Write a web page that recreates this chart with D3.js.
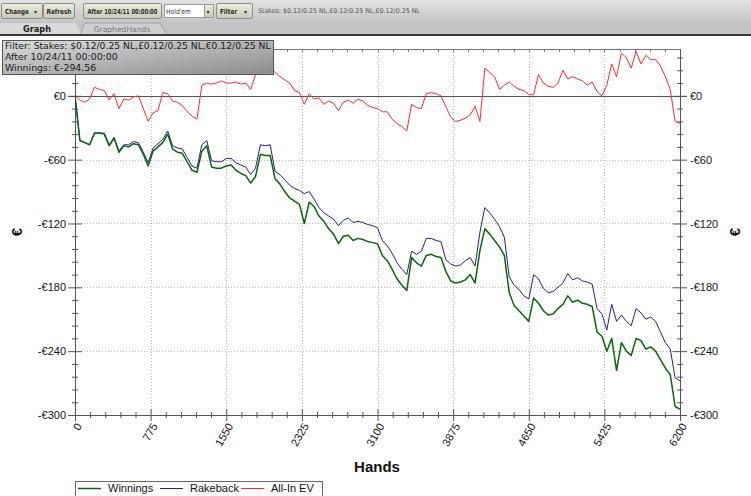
<!DOCTYPE html>
<meta charset="utf-8">
<style>
body { margin: 0; background: #fff; }
svg { display: block; font-family: "Liberation Sans", Arial, sans-serif; }
.axis text { font-size: 11px; fill: #111; }
.tb text { font-family: "DejaVu Sans", Verdana, sans-serif; }
</style>
<body>
<svg id="chart" width="751" height="496"></svg>
<script src="https://d3js.org/d3.v7.min.js"></script>
<script>
// hands played (x samples)
var hands = [0,50,100,150,200,250,300,350,400,450,500,550,600,650,700,750,800,850,900,950,
  1000,1050,1100,1150,1200,1250,1300,1350,1400,1450,1500,1550,1600,1650,1700,1750,1800,1850,1900,1950,
  2000,2050,2100,2150,2200,2250,2300,2350,2400,2450,2500,2550,2600,2650,2700,2750,2800,2850,2900,2950,
  3000,3050,3100,3150,3200,3250,3300,3350,3400,3450,3500,3550,3600,3650,3700,3750,3800,3850,3900,3950,
  4000,4050,4100,4150,4200,4250,4300,4350,4400,4450,4500,4550,4600,4650,4700,4750,4800,4850,4900,4950,
  5000,5050,5100,5150,5200,5250,5300,5350,5400,5450,5500,5550,5600,5650,5700,5750,5800,5850,5900,5950,
  6000,6050,6100,6150,6200];

var winnings = [0,-42,-44,-46,-35,-35,-36,-47,-40,-53,-47,-48,-45,-46,-55,-66,-52,-48,-44,-36,
  -50,-53,-54,-62,-70,-72,-52,-47,-67,-68,-68,-66,
  -65,-70,-73,-75,-82,-76,-55,-56,-56,-78,-83,-90,-96,-99,-102,-120,-100,-104,-113,-118,
  -125,-130,-139,-132,-131,-136,-134,-135,-137,-138,-139,
  -150,-155,-163,-172,-178,-183,-152,-157,-160,-150,-149,-151,-152,-165,-174,-176,-175,-173,-168,-176,
  -145,-125,-130,-136,-142,-150,-185,-197,-202,-207,-212,-190,
  -195,-202,-206,-205,-200,-196,-188,-194,-192,-195,-196,-198,-222,-226,-240,-228,-258,-232,-240,-244,
  -228,-230,-238,-236,-240,-248,-256,-262,-292,-294.56];

var rakeback = [0,-42,-44,-46,-35,-35,-35,-46,-39,-52,-46,-46,-43,-44,-53,-63,-49,-45,-41,-33,
  -47,-49,-50,-58,-66,-68,-46,-42,-61,-62,-62,-59,
  -59,-63,-65,-67,-74,-68,-46,-47,-46,-71,-74,-79,-84,-87,-89,-92,-90,-97,-105,-110,
  -113,-116,-122,-117,-115,-119,-118,-119,-121,-122,-124,
  -136,-141,-148,-157,-163,-168,-146,-149,-146,-134,-134,-136,-137,-154,-158,-160,-159,-155,-152,-160,
  -128,-105,-110,-116,-123,-133,-170,-178,-182,-188,-191,-168,
  -172,-181,-185,-184,-180,-176,-167,-173,-171,-174,-175,-177,-200,-205,-220,-196,-212,-206,-212,-216,
  -200,-204,-210,-208,-212,-222,-232,-238,-265,-268];

var allInEV = [0,-4,-6,-3,8,6,5,-4,2,-12,-3,-4,-1,0,-12,-24,-16,-14,3,2,
  -5,-6,-9,-15,-19,-22,10,12,11,12,14,12,
  12,13,11,12,6,20,28,30,28,22,18,15,12,5,3,-8,2,-3,-2,-8,
  -5,-7,-14,-6,-4,-7,-3,-5,-9,-11,-12,
  -15,-15,-22,-26,-29,-33,-8,-11,-12,2,3,2,0,-10,-20,-24,-23,-21,-18,-10,
  -24,26,22,18,6,10,13,9,6,5,1,1,
  20,12,9,8,12,24,16,18,16,14,10,13,4,0,10,30,18,40,36,26,
  42,30,38,34,34,28,18,6,-24,-26];

var xTicks = [0,775,1550,2325,3100,3875,4650,5425,6200];
var yTicks = [0,-60,-120,-180,-240,-300];
var seriesNames = ["Winnings","Rakeback","All-In EV"];
var seriesColors = ["#0c650c","#1e1e9a","#ff2b2b"];
var seriesWidths = [1.5,1,1];

var filterLines = ["Filter: Stakes: $0.12/0.25 NL,\u00a30.12/0.25 NL,\u20ac0.12/0.25 NL",
  "After 10/24/11 00:00:00", "Winnings: \u20ac-294.56"];

(function(){
var svg = d3.select("#chart");
var defs = svg.append("defs");

// squeeze a text horizontally so it spans the given width
function fitText(parent, t, px, py, w, size, opts){
  opts = opts || {};
  var el = parent.append("text").attr("font-size",size).attr("fill",opts.fill || "#2a2a2a")
    .attr("font-weight",opts.bold ? "bold" : null).text(t);
  if(opts.family) el.attr("font-family",opts.family);
  var nat = el.node().getComputedTextLength();
  var sx = w / nat;
  el.attr("transform","translate("+px+","+py+") scale("+sx+",1)");
  return el;
}

// ---------- toolbar ----------
var g1 = defs.append("linearGradient").attr("id","tbg").attr("x1",0).attr("y1",0).attr("x2",0).attr("y2",1);
g1.append("stop").attr("offset","0%").attr("stop-color","#e2e2e2");
g1.append("stop").attr("offset","100%").attr("stop-color","#c6c6c6");
var g2 = defs.append("linearGradient").attr("id","btn").attr("x1",0).attr("y1",0).attr("x2",0).attr("y2",1);
g2.append("stop").attr("offset","0%").attr("stop-color","#ecece0");
g2.append("stop").attr("offset","100%").attr("stop-color","#c9cab8");
var g3 = defs.append("linearGradient").attr("id","info").attr("x1",0).attr("y1",0).attr("x2",1).attr("y2",1);
g3.append("stop").attr("offset","0%").attr("stop-color","#dcdcdc");
g3.append("stop").attr("offset","100%").attr("stop-color","#8c8c8c");

var tb = svg.append("g").attr("class","tb");
tb.append("rect").attr("x",0).attr("y",0).attr("width",751).attr("height",22).attr("fill","url(#tbg)");
var buttons = [
  {x:1, w:41, t:"Change", len:24, arrow:true},
  {x:43, w:31, t:"Refresh", len:25},
  {x:83, w:78, t:"After 10/24/11 00:00:00", len:70},
  {x:216, w:36, t:"Filter", len:17, arrow:true}
];
buttons.forEach(function(b){
  tb.append("rect").attr("x",b.x+0.5).attr("y",3.5).attr("width",b.w).attr("height",15)
    .attr("fill","url(#btn)").attr("stroke","#8e8f84").attr("rx",1.5);
  fitText(tb, b.t, b.arrow ? b.x+4 : b.x+(b.w-b.len)/2+0.5, 14, b.len, 7, {bold:true});
  if(b.arrow) tb.append("text").attr("x",b.x+b.w-8).attr("y",14).attr("font-size",6).attr("fill","#333").text("\u25be");
});
tb.append("rect").attr("x",164.5).attr("y",4.5).attr("width",40).attr("height",13).attr("fill","#fff").attr("stroke","#999");
fitText(tb, "Hold'em", 166, 14, 25, 7, {fill:"#333"});
tb.append("rect").attr("x",204.5).attr("y",4.5).attr("width",9).attr("height",13).attr("fill","url(#btn)").attr("stroke","#999");
tb.append("text").attr("x",206.5).attr("y",14).attr("font-size",6).attr("fill","#333").text("\u25be");
fitText(tb, "Stakes: $0.12/0.25 NL,\u00a30.12/0.25 NL,\u20ac0.12/0.25 NL", 258, 13, 162, 6.6, {fill:"#555"});

tb.append("rect").attr("x",0).attr("y",22).attr("width",751).attr("height",13).attr("fill","#c4c4c4");
tb.append("path").attr("d","M0,23 H76 L82,35 H0 Z").attr("fill","#d9d9d9");
tb.append("path").attr("d","M80,35 L84,24 Q85,23 87,23 H160 L167,35").attr("fill","#cfcfcf").attr("stroke","#a0a0a0");
tb.append("text").attr("x",37).attr("y",32).attr("text-anchor","middle").attr("font-size",8.2)
  .attr("font-weight","bold").attr("fill","#222").text("Graph");
tb.append("text").attr("x",122).attr("y",32).attr("text-anchor","middle").attr("font-size",7.6)
  .attr("fill","#777").text("GraphedHands");
tb.append("rect").attr("x",0).attr("y",34).attr("width",751).attr("height",2).attr("fill","#3c3c3c");

// ---------- chart ----------
var pl = 75, pr = 680, pt = 49, pb = 415;
var x = d3.scaleLinear().domain([0,6200]).range([pl,pr]);
var y = d3.scaleLinear().domain([-300,44]).range([pb,pt]);

var xMinor = d3.range(0,6201,155);
var yMinor = d3.range(-300,45,12);
var euro = function(v){ return v === 0 ? "\u20ac0" : "-\u20ac" + Math.abs(v); };

// grid
svg.append("g").selectAll("line").data(xTicks.slice(1,-1)).join("line")
  .attr("x1",d=>Math.round(x(d))+0.5).attr("x2",d=>Math.round(x(d))+0.5).attr("y1",pt).attr("y2",pb)
  .attr("stroke","#b8b8b8").attr("stroke-dasharray","1,2");
svg.append("g").selectAll("line").data(yTicks.filter(d=>d!==0 && d!==-300)).join("line")
  .attr("x1",pl).attr("x2",pr).attr("y1",d=>Math.round(y(d))+0.5).attr("y2",d=>Math.round(y(d))+0.5)
  .attr("stroke","#b8b8b8").attr("stroke-dasharray","1,2");

// top border with small ticks
svg.append("line").attr("x1",pl).attr("x2",pr).attr("y1",pt+0.5).attr("y2",pt+0.5).attr("stroke","#777");
svg.append("g").selectAll("line").data(xMinor).join("line")
  .attr("x1",d=>Math.round(x(d))+0.5).attr("x2",d=>Math.round(x(d))+0.5).attr("y1",pt).attr("y2",pt+3).attr("stroke","#777");

// zero line
svg.append("line").attr("x1",68).attr("x2",687).attr("y1",Math.round(y(0))+0.5).attr("y2",Math.round(y(0))+0.5)
  .attr("stroke","#555").attr("stroke-width",1);

// axes
function crossTicks(sel, major, minorLen, majorLen, vertical){
  sel.selectAll(".tick line").each(function(d){
    var len = major.indexOf(d) >= 0 ? majorLen : minorLen;
    if(vertical) d3.select(this).attr("x1",-len).attr("x2",len);
    else d3.select(this).attr("y1",-len).attr("y2",len);
  });
  sel.select(".domain").attr("stroke","#555");
  sel.selectAll(".tick line").attr("stroke","#555");
}
var ya = svg.append("g").attr("class","axis").attr("transform","translate("+pl+",0)")
  .call(d3.axisLeft(y).tickValues(yMinor).tickSizeOuter(0).tickFormat(d=>yTicks.indexOf(d)>=0?euro(d):""));
crossTicks(ya, yTicks, 3, 7, true);
ya.selectAll(".tick text").attr("x",-9);
var yb = svg.append("g").attr("class","axis").attr("transform","translate("+pr+",0)")
  .call(d3.axisRight(y).tickValues(yMinor).tickSizeOuter(0).tickFormat(d=>yTicks.indexOf(d)>=0?euro(d):""));
crossTicks(yb, yTicks, 3, 7, true);
yb.selectAll(".tick text").attr("x",10);
var xa = svg.append("g").attr("class","axis").attr("transform","translate(0,"+pb+")")
  .call(d3.axisBottom(x).tickValues(xMinor).tickSizeOuter(0).tickFormat(""));
crossTicks(xa, xTicks, 3, 6, false);
xa.select(".domain").attr("d","M68,0.5H687");

svg.append("g").attr("class","axis").selectAll("text").data(xTicks).join("text")
  .attr("transform",d=>"translate("+(x(d)+4)+",424) rotate(-60)")
  .attr("text-anchor","end").attr("dy","0.35em").attr("font-size",11).attr("fill","#111").text(d=>d);

// axis titles
svg.append("text").attr("x",377).attr("y",472).attr("text-anchor","middle")
  .attr("font-size",15).attr("font-weight","bold").attr("fill","#111").text("Hands");
[17,735].forEach(function(px){
  svg.append("text").attr("transform","translate("+px+",232) rotate(-90)").attr("text-anchor","middle")
    .attr("dy","0.35em").attr("font-size",15).attr("font-weight","bold").attr("fill","#111").text("\u20ac");
});

// lines
defs.append("clipPath").attr("id","plot").append("rect")
  .attr("x",pl).attr("y",pt).attr("width",pr-pl+1).attr("height",pb-pt+1);
var series = [winnings, rakeback, allInEV];
var line = d3.line().x((d,i)=>x(hands[i])).y(d=>y(d));
var lg = svg.append("g").attr("clip-path","url(#plot)");
[2,1,0].forEach(function(s){
  lg.append("path").datum(series[s]).attr("d",line).attr("fill","none")
    .attr("stroke",seriesColors[s]).attr("stroke-width",seriesWidths[s]).attr("stroke-linejoin","round");
});

// legend
var leg = svg.append("g");
leg.append("rect").attr("x",75.5).attr("y",481.5).attr("width",247).attr("height",20).attr("fill","#fff").attr("stroke","#666");
var legX = [78,160,241];
seriesNames.forEach(function(n,i){
  leg.append("line").attr("x1",legX[i]).attr("x2",legX[i]+23).attr("y1",488.5).attr("y2",488.5)
    .attr("stroke",seriesColors[i]).attr("stroke-width",seriesWidths[i]);
  leg.append("text").attr("x",legX[i]+30).attr("y",492).attr("font-size",11).attr("fill","#111").text(n);
});

// info box
var ib = svg.append("g");
ib.append("rect").attr("x",2.5).attr("y",40.5).attr("width",271).attr("height",34)
  .attr("fill","url(#info)").attr("stroke","#555");
filterLines.forEach(function(t,i){
  if(i===0) fitText(ib, t, 5, 49, 265, 9.4, {fill:"#1a1a1a", family:"'DejaVu Sans', Verdana, sans-serif"});
  else ib.append("text").attr("x",5).attr("y",49+i*11).attr("font-family","'DejaVu Sans', Verdana, sans-serif")
    .attr("font-size",9.4).attr("fill","#1a1a1a").text(t);
});
})();
</script>
</body>
